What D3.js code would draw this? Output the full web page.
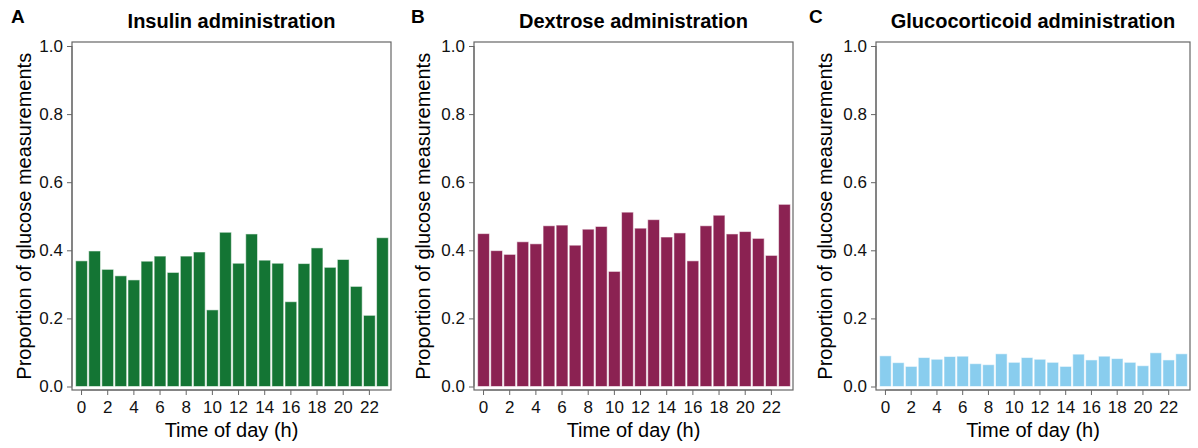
<!DOCTYPE html>
<html>
<head>
<meta charset="utf-8">
<script src="https://cdn.jsdelivr.net/npm/d3@7"></script>
<style>
  body { margin: 0; background: #fff; }
  svg { font-family: "Liberation Sans", Arial, sans-serif; }
</style>
</head>
<body>
<div id="chart"></div>
<script>
const hours = d3.range(0, 24);
const xTicks = [0, 2, 4, 6, 8, 10, 12, 14, 16, 18, 20, 22];
const yTicks = [0, 0.2, 0.4, 0.6, 0.8, 1.0];

const insulin = [0.369, 0.398, 0.344, 0.325, 0.313, 0.368, 0.383, 0.335, 0.383, 0.395,
  0.225, 0.453, 0.362, 0.448, 0.371, 0.362, 0.249, 0.361, 0.407, 0.350,
  0.373, 0.294, 0.209, 0.437];
const dextrose = [0.449, 0.399, 0.388, 0.425, 0.419, 0.472, 0.474, 0.415, 0.462, 0.470,
  0.338, 0.512, 0.465, 0.490, 0.439, 0.451, 0.369, 0.472, 0.503, 0.448,
  0.455, 0.435, 0.385, 0.535];
const glucocorticoid = [0.090, 0.070, 0.059, 0.085, 0.080, 0.088, 0.089, 0.067, 0.064, 0.096,
  0.071, 0.085, 0.080, 0.071, 0.059, 0.095, 0.078, 0.089, 0.082, 0.071,
  0.061, 0.099, 0.078, 0.096];

const panels = [
  { letter: 'A', title: 'Insulin administration', values: insulin, color: '#147534',
    left: 72, right: 391, letterX: 11, labelOff: 41 },
  { letter: 'B', title: 'Dextrose administration', values: dextrose, color: '#8B2252',
    left: 474, right: 793, letterX: 411, labelOff: 44 },
  { letter: 'C', title: 'Glucocorticoid administration', values: glucocorticoid, color: '#89CDEE',
    left: 876, right: 1190, letterX: 809, labelOff: 44 }
];

const W = 1198, H = 448;
const boxTop = 42, boxBottom = 390;
const axisColor = '#666';
const tickFont = '17px';

const svg = d3.select('#chart').append('svg')
  .attr('width', W)
  .attr('height', H);

const y = d3.scaleLinear()
  .domain([0, 1])
  .range([386.5, 46]);

panels.forEach(p => {
  const g = svg.append('g');

  const x = d3.scaleBand()
    .domain(hours)
    .range([p.left + 3, p.right - 2])
    .paddingInner(0.1)
    .paddingOuter(0.05);

  // bars
  g.selectAll('rect.bar')
    .data(p.values)
    .join('rect')
    .attr('class', 'bar')
    .attr('x', (d, i) => x(hours[i]))
    .attr('width', x.bandwidth())
    .attr('y', d => y(d))
    .attr('height', d => y(0) - y(d))
    .attr('fill', p.color)
    .attr('stroke', 'rgba(255,255,255,0.55)')
    .attr('stroke-width', 1);

  // box
  g.append('rect')
    .attr('x', p.left)
    .attr('y', boxTop)
    .attr('width', p.right - p.left)
    .attr('height', boxBottom - boxTop)
    .attr('fill', 'none')
    .attr('stroke', axisColor)
    .attr('stroke-width', 1.2);

  // y axis
  const yAxis = g.append('g')
    .attr('transform', `translate(${p.left},0)`)
    .call(d3.axisLeft(y).tickValues(yTicks).tickFormat(d3.format('.1f'))
      .tickSize(5).tickPadding(4));
  yAxis.select('.domain').attr('stroke', axisColor).attr('d', `M0,${y(0)}V${y(1)}`);
  yAxis.selectAll('.tick line').attr('stroke', axisColor);
  yAxis.selectAll('.tick text')
    .attr('fill', '#111')
    .style('font-size', tickFont)
    .style('font-family', '"Liberation Sans", Arial, sans-serif');

  // x axis
  const xAxis = g.append('g')
    .attr('transform', `translate(0,${boxBottom})`)
    .call(d3.axisBottom(x).tickValues(xTicks).tickSize(5).tickPadding(6));
  xAxis.select('.domain').attr('stroke', axisColor)
    .attr('d', `M${x(0) + x.bandwidth() / 2},0H${x(22) + x.bandwidth() / 2}`);
  xAxis.selectAll('.tick line').attr('stroke', axisColor);
  xAxis.selectAll('.tick text')
    .attr('fill', '#111')
    .style('font-size', tickFont)
    .style('font-family', '"Liberation Sans", Arial, sans-serif');

  const cx = (p.left + p.right) / 2;

  // titles
  g.append('text')
    .attr('x', cx)
    .attr('y', 28)
    .attr('text-anchor', 'middle')
    .attr('font-weight', 'bold')
    .attr('font-size', 20)
    .text(p.title);

  g.append('text')
    .attr('x', p.letterX)
    .attr('y', 23)
    .attr('font-weight', 'bold')
    .attr('font-size', 19)
    .text(p.letter);

  g.append('text')
    .attr('x', cx)
    .attr('y', 437)
    .attr('text-anchor', 'middle')
    .attr('font-size', 20)
    .text('Time of day (h)');

  g.append('text')
    .attr('transform', `translate(${p.left - p.labelOff},${(y(0) + y(1)) / 2}) rotate(-90)`)
    .attr('text-anchor', 'middle')
    .attr('font-size', 20)
    .text('Proportion of glucose measurements');
});
</script>
</body>
</html>
